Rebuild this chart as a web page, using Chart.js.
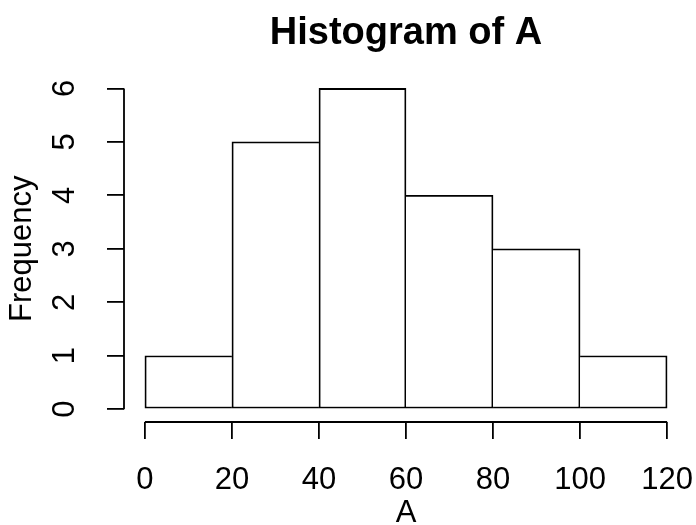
<!DOCTYPE html>
<html>
<head>
<meta charset="utf-8">
<script src="https://cdn.jsdelivr.net/npm/chart.js@4"></script>
<style>
  html, body { margin: 0; padding: 0; background: #fff; }
  #wrap { width: 696px; height: 525px; }
</style>
</head>
<body>
<div id="wrap"><canvas id="chart"></canvas></div>
<script>
const breaks = [0, 20, 40, 60, 80, 100, 120];
const counts = [1, 5, 6, 4, 3, 1];
const xTicks = [0, 20, 40, 60, 80, 100, 120];
const yTicks = [0, 1, 2, 3, 4, 5, 6];

const FONT = "'Liberation Sans', Arial, sans-serif";
const LW = 1.8;

// bin centres, one bar per bin
const mids = counts.map((c, i) => (breaks[i] + breaks[i + 1]) / 2);

// shared edges are drawn only by the taller bar so they don't double up
const edgeWidth = (ctx) => {
  const i = ctx.dataIndex;
  const v = counts[i];
  return {
    top: LW,
    bottom: LW,
    left: i === 0 || counts[i - 1] < v ? LW : 0,
    right: i === counts.length - 1 || counts[i + 1] <= v ? LW : 0,
  };
};

// R style axes: the line only runs from first to last tick
const axisLines = {
  id: 'axisLines',
  afterDraw(chart) {
    const { ctx, scales: { x, y } } = chart;
    ctx.save();
    ctx.strokeStyle = '#000';
    ctx.lineWidth = LW;
    ctx.beginPath();
    ctx.moveTo(x.getPixelForValue(xTicks[0]), x.top);
    ctx.lineTo(x.getPixelForValue(xTicks[xTicks.length - 1]), x.top);
    ctx.moveTo(y.right, y.getPixelForValue(yTicks[0]));
    ctx.lineTo(y.right, y.getPixelForValue(yTicks[yTicks.length - 1]));
    ctx.stroke();
    ctx.restore();
  },
};

new Chart(document.getElementById('chart'), {
  type: 'bar',
  data: {
    datasets: [{
      data: counts.map((c, i) => ({ x: mids[i], y: c })),
      backgroundColor: '#fff',
      borderColor: '#000',
      borderWidth: edgeWidth,
      borderSkipped: false,
      barPercentage: 1,
      categoryPercentage: 1,
    }],
  },
  options: {
    responsive: true,
    maintainAspectRatio: false,
    animation: false,
    layout: { padding: { right: 8 } },
    plugins: {
      legend: { display: false },
      tooltip: { enabled: false },
      title: {
        display: true,
        text: 'Histogram of A',
        fullSize: false,
        color: '#000',
        font: { family: FONT, size: 38, weight: 'bold', lineHeight: 1.2 },
        padding: { top: 11, bottom: 19 },
      },
    },
    scales: {
      x: {
        type: 'linear',
        offset: false,
        min: -4.8,
        max: 124.8,
        afterBuildTicks: (s) => { s.ticks = xTicks.map((v) => ({ value: v })); },
        afterFit: (s) => { s.height = 103; s.paddingLeft = 0; s.paddingRight = 0; },
        grid: { offset: false, drawOnChartArea: false, tickLength: 17, color: '#000', lineWidth: LW },
        border: { display: false },
        ticks: {
          color: '#000',
          font: { family: FONT, size: 31 },
          padding: 23,
          maxRotation: 0,
          autoSkip: false,
        },
        title: {
          display: true,
          text: 'A',
          color: '#000',
          font: { family: FONT, size: 31 },
          padding: { top: 0, bottom: -7 },
        },
      },
      y: {
        min: -0.24,
        max: 6.24,
        afterBuildTicks: (s) => { s.ticks = yTicks.map((v) => ({ value: v })); },
        afterFit: (s) => { s.width = 124; s.paddingTop = 0; s.paddingBottom = 0; },
        grid: { drawOnChartArea: false, tickLength: 17, color: '#000', lineWidth: LW },
        border: { display: false },
        ticks: {
          color: '#000',
          font: { family: FONT, size: 31 },
          minRotation: 90,
          maxRotation: 90,
          crossAlign: 'center',
          padding: 33,
        },
        title: {
          display: true,
          text: 'Frequency',
          color: '#000',
          font: { family: FONT, size: 31 },
          padding: { top: 4, bottom: 0 },
        },
      },
    },
  },
  plugins: [axisLines],
});
</script>
</body>
</html>
